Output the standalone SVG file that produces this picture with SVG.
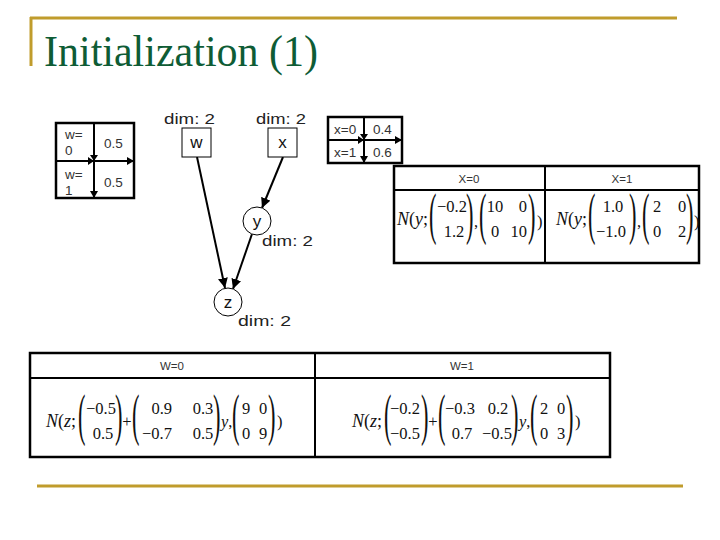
<svg xmlns="http://www.w3.org/2000/svg" width="720" height="540" viewBox="0 0 720 540">
<defs>
<marker id="ah" viewBox="0 0 10 10" refX="10" refY="5" markerWidth="5" markerHeight="5" markerUnits="strokeWidth" orient="auto">
<path d="M0,0 L10,5 L0,10 z" fill="#000"/>
</marker>
<style>
.gold{stroke:#c09c2c;stroke-width:3;fill:none}
.title{font-family:"Liberation Serif",serif;font-size:44px;fill:#0e5c35}
.dim{font-family:"Liberation Sans",Arial,sans-serif;font-size:15px;fill:#222}
.lab{font-family:"Liberation Sans",Arial,sans-serif;font-size:17px;fill:#111;text-anchor:middle}
.node{fill:#fff;stroke:#000;stroke-width:1}
.edge{stroke:#000;stroke-width:2;fill:none;marker-end:url(#ah)}
.tb{fill:none;stroke:#000;stroke-width:2.5}
.tl{stroke:#000;stroke-width:2}
.st{font-family:"Liberation Sans",Arial,sans-serif;font-size:13.5px;fill:#333}
.hd{font-family:"Liberation Sans",Arial,sans-serif;font-size:11.5px;fill:#333;text-anchor:middle}
.m{font-family:"Liberation Serif","Times New Roman",serif;font-size:16.5px;fill:#111}
.mc{font-family:"Liberation Serif","Times New Roman",serif;font-size:16.5px;fill:#111;text-anchor:middle}
.me{font-family:"Liberation Serif","Times New Roman",serif;font-size:16.5px;fill:#111;text-anchor:end}
.nn{font-family:"Liberation Serif","Times New Roman",serif;font-size:18px;fill:#111}
.bp{font-family:"Liberation Serif","Times New Roman",serif;font-size:56px;fill:#111}
.it{font-style:italic}
.tri{fill:#000}
</style>
</defs>

<g id="frame">
<line class="gold" x1="30" y1="18" x2="677" y2="18"/>
<line class="gold" x1="31" y1="17" x2="31" y2="66"/>
<line class="gold" x1="37" y1="486" x2="683" y2="486"/>
<text class="title" x="44" y="66" textLength="274" lengthAdjust="spacingAndGlyphs">Initialization (1)</text>
</g>

<g id="cpt-w">
<rect class="tb" x="56" y="123" width="78" height="75"/>
<line class="tl" x1="94" y1="123" x2="94" y2="198"/>
<line class="tl" x1="56" y1="161" x2="134" y2="161"/>
<path class="tri" d="M88,157 L94,161 L88,165 z"/>
<path class="tri" d="M90,155 L98,155 L94,161 z"/>
<path class="tri" d="M127,157 L134,161 L127,165 z"/>
<path class="tri" d="M90,191 L98,191 L94,198 z"/>
<text class="st" x="65" y="139">w=</text>
<text class="st" x="65" y="155">0</text>
<text class="st" x="104" y="148">0.5</text>
<text class="st" x="65" y="179">w=</text>
<text class="st" x="65" y="195">1</text>
<text class="st" x="104" y="187">0.5</text>
</g>

<g id="cpt-x">
<rect class="tb" x="328" y="117" width="74" height="46"/>
<line class="tl" x1="364" y1="117" x2="364" y2="163"/>
<line class="tl" x1="328" y1="140" x2="402" y2="140"/>
<path class="tri" d="M358,136 L364,140 L358,144 z"/>
<path class="tri" d="M360,134 L368,134 L364,140 z"/>
<path class="tri" d="M395,136 L402,140 L395,144 z"/>
<path class="tri" d="M360,156 L368,156 L364,163 z"/>
<text class="st" x="334" y="134">x=0</text>
<text class="st" x="373" y="134">0.4</text>
<text class="st" x="334" y="157">x=1</text>
<text class="st" x="373" y="157">0.6</text>
</g>

<g id="cpt-y">
<rect class="tb" x="394" y="166" width="305" height="97"/>
<line class="tl" x1="394" y1="190" x2="699" y2="190"/>
<line class="tl" x1="545" y1="166" x2="545" y2="263"/>
<text class="hd" x="469" y="183">X=0</text>
<text class="hd" x="622" y="183">X=1</text>
<text class="nn" x="397" y="225"><tspan class="it">N</tspan>(<tspan class="it">y</tspan>;</text>
<text class="bp" transform="translate(429,232.5) scale(0.4,1)">(</text>
<text class="mc" x="452" y="212">−0.2</text>
<text class="mc" x="454" y="237">1.2</text>
<text class="bp" transform="translate(466,232.5) scale(0.4,1)">)</text>
<text class="m" x="474" y="227">,</text>
<text class="bp" transform="translate(479,232.5) scale(0.4,1)">(</text>
<text class="mc" x="495" y="212">10</text>
<text class="mc" x="495" y="237">0</text>
<text class="me" x="527" y="212">0</text>
<text class="me" x="527" y="237">10</text>
<text class="bp" transform="translate(528,232.5) scale(0.4,1)">)</text>
<text class="m" x="537" y="227">)</text>
<text class="nn" x="556" y="225"><tspan class="it">N</tspan>(<tspan class="it">y</tspan>;</text>
<text class="bp" transform="translate(588,232.5) scale(0.4,1)">(</text>
<text class="mc" x="613" y="212">1.0</text>
<text class="mc" x="611" y="237">−1.0</text>
<text class="bp" transform="translate(629,232.5) scale(0.4,1)">)</text>
<text class="m" x="637" y="227">,</text>
<text class="bp" transform="translate(642,232.5) scale(0.4,1)">(</text>
<text class="mc" x="657" y="212">2</text>
<text class="mc" x="657" y="237">0</text>
<text class="mc" x="682" y="212">0</text>
<text class="mc" x="682" y="237">2</text>
<text class="bp" transform="translate(686,232.5) scale(0.4,1)">)</text>
<text class="m" x="694" y="227">)</text>
</g>

<g id="cpt-z">
<rect class="tb" x="30" y="353" width="580" height="104"/>
<line class="tl" x1="30" y1="378" x2="610" y2="378"/>
<line class="tl" x1="315" y1="353" x2="315" y2="457"/>
<text class="hd" x="172" y="370">W=0</text>
<text class="hd" x="462" y="370">W=1</text>
<text class="nn" x="46" y="427"><tspan class="it">N</tspan>(<tspan class="it">z</tspan>;</text>
<text class="bp" transform="translate(78,434) scale(0.4,1)">(</text>
<text class="mc" x="101" y="414">−0.5</text>
<text class="mc" x="103" y="439">0.5</text>
<text class="bp" transform="translate(115,434) scale(0.4,1)">)</text>
<text class="mc" x="127" y="427">+</text>
<text class="bp" transform="translate(132,434) scale(0.4,1)">(</text>
<text class="me" x="172" y="414">0.9</text>
<text class="me" x="172" y="439">−0.7</text>
<text class="mc" x="203" y="414">0.3</text>
<text class="mc" x="203" y="439">0.5</text>
<text class="bp" transform="translate(213,434) scale(0.4,1)">)</text>
<text class="m" x="221" y="427"><tspan class="it">y</tspan>,</text>
<text class="bp" transform="translate(232,434) scale(0.4,1)">(</text>
<text class="mc" x="246" y="414">9</text>
<text class="mc" x="246" y="439">0</text>
<text class="mc" x="263" y="414">0</text>
<text class="mc" x="263" y="439">9</text>
<text class="bp" transform="translate(268,434) scale(0.4,1)">)</text>
<text class="m" x="277" y="427">)</text>
<text class="nn" x="352" y="427"><tspan class="it">N</tspan>(<tspan class="it">z</tspan>;</text>
<text class="bp" transform="translate(384,434) scale(0.4,1)">(</text>
<text class="me" x="420" y="414">−0.2</text>
<text class="me" x="420" y="439">−0.5</text>
<text class="bp" transform="translate(421,434) scale(0.4,1)">)</text>
<text class="mc" x="433" y="427">+</text>
<text class="bp" transform="translate(438,434) scale(0.4,1)">(</text>
<text class="mc" x="460" y="414">−0.3</text>
<text class="mc" x="462" y="439">0.7</text>
<text class="mc" x="498" y="414">0.2</text>
<text class="mc" x="497" y="439">−0.5</text>
<text class="bp" transform="translate(511,434) scale(0.4,1)">)</text>
<text class="m" x="519" y="427"><tspan class="it">y</tspan>,</text>
<text class="bp" transform="translate(530,434) scale(0.4,1)">(</text>
<text class="mc" x="544" y="414">2</text>
<text class="mc" x="544" y="439">0</text>
<text class="mc" x="561" y="414">0</text>
<text class="mc" x="561" y="439">3</text>
<text class="bp" transform="translate(566,434) scale(0.4,1)">)</text>
<text class="m" x="575" y="427">)</text>
</g>

<g id="connectors">
<line class="edge" x1="197" y1="157" x2="225" y2="288"/>
<line class="edge" x1="283" y1="157" x2="262" y2="208"/>
<line class="edge" x1="252" y1="234" x2="233" y2="289"/>
</g>

<g id="node-w">
<text class="dim" x="164" y="124" textLength="51" lengthAdjust="spacingAndGlyphs">dim: 2</text>
<rect class="node" x="182" y="128" width="29" height="29"/>
<text class="lab" x="196.5" y="148">w</text>
</g>
<g id="node-x">
<text class="dim" x="256" y="124" textLength="50" lengthAdjust="spacingAndGlyphs">dim: 2</text>
<rect class="node" x="268" y="128" width="29" height="29"/>
<text class="lab" x="282.5" y="148">x</text>
</g>
<g id="node-y">
<circle class="node" cx="257" cy="221" r="14"/>
<text class="lab" x="257" y="227">y</text>
<text class="dim" x="262" y="246" textLength="51" lengthAdjust="spacingAndGlyphs">dim: 2</text>
</g>
<g id="node-z">
<circle class="node" cx="228" cy="302" r="14"/>
<text class="lab" x="228" y="308">z</text>
<text class="dim" x="238" y="326" textLength="53" lengthAdjust="spacingAndGlyphs">dim: 2</text>
</g>
</svg>
